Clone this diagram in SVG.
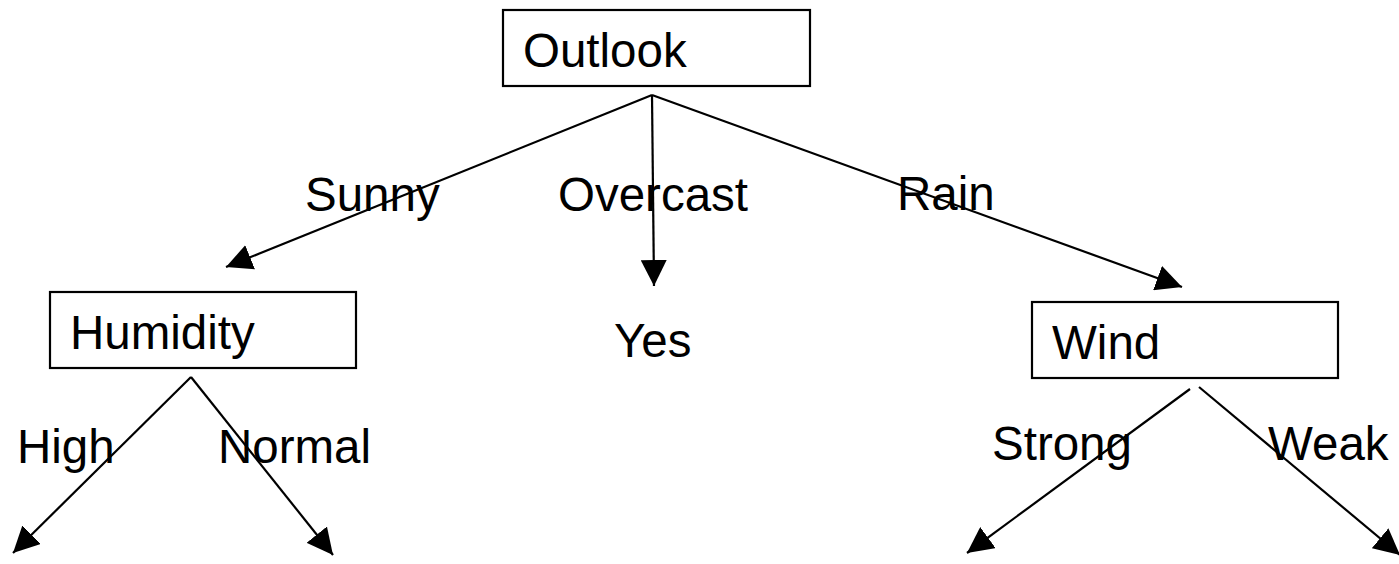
<svg xmlns="http://www.w3.org/2000/svg" width="1399" height="564" viewBox="0 0 1399 564">
<style>
  .box { fill: #ffffff; stroke: #000000; stroke-width: 2.2; }
  .t { font-family: "Liberation Sans", Arial, sans-serif; font-size: 47.5px; fill: #000000; }
  .c { stroke: #000000; stroke-width: 2.2; fill: none; marker-end: url(#ah); }
</style>
<defs>
  <marker id="ah" markerUnits="userSpaceOnUse" markerWidth="27" markerHeight="26" refX="26" refY="13" orient="auto" viewBox="0 0 27 26">
    <path d="M0,0 L26,13 L0,26 z" fill="#000000"/>
  </marker>
</defs>
<rect width="1399" height="564" fill="#ffffff"/>
<g id="connectors">
  <line class="c" x1="652" y1="95" x2="226" y2="267"/>
  <line class="c" x1="652" y1="95" x2="654" y2="286"/>
  <line class="c" x1="652" y1="95" x2="1182" y2="287"/>
  <line class="c" x1="191" y1="377" x2="13" y2="553"/>
  <line class="c" x1="191" y1="377" x2="333" y2="555"/>
  <line class="c" x1="1190" y1="389" x2="967" y2="553"/>
  <line class="c" x1="1199" y1="387" x2="1400" y2="555"/>
</g>
<g id="labels">
  <text class="t" x="305" y="211">Sunny</text>
  <text class="t" x="558" y="211">Overcast</text>
  <text class="t" x="897" y="210">Rain</text>
  <text class="t" x="17" y="463">High</text>
  <text class="t" x="218" y="463">Normal</text>
  <text class="t" x="992" y="460">Strong</text>
  <text class="t" x="1268" y="460">Weak</text>
</g>
<g id="outlook">
  <rect class="box" x="503" y="10" width="307" height="76"/>
  <text class="t" x="523" y="67">Outlook</text>
</g>
<g id="humidity">
  <rect class="box" x="50" y="292" width="306" height="76"/>
  <text class="t" x="70" y="349">Humidity</text>
</g>
<g id="yes">
  <text class="t" x="614" y="357">Yes</text>
</g>
<g id="wind">
  <rect class="box" x="1032" y="302" width="306" height="76"/>
  <text class="t" x="1052" y="359">Wind</text>
</g>
</svg>
